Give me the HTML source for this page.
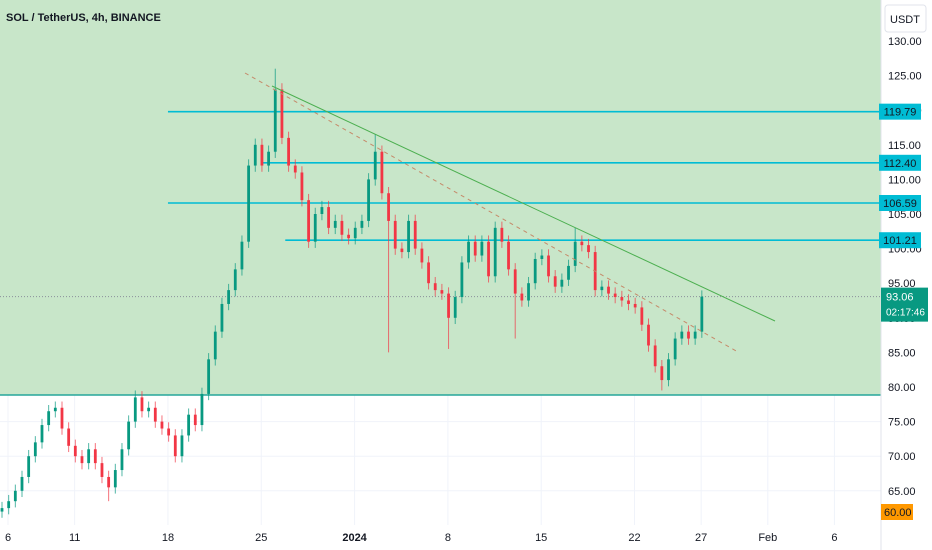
<!DOCTYPE html>
<html><head><meta charset="utf-8"><style>
body{margin:0;width:932px;height:550px;overflow:hidden;background:#fff;font-family:"Liberation Sans",sans-serif}
svg{display:block}
</style></head><body>
<svg id="chart" width="932" height="550">
<g id="grid"></g>
<rect x="0" y="0" width="881" height="395" fill="#c8e6c9"/>
<g id="grid2"></g>
<line x1="0" y1="395" x2="881" y2="395" stroke="#26a69a" stroke-width="1.5"/>
<g id="levels"></g>
<g id="candles"></g>
<g id="trend"></g>
<line x1="881" y1="0" x2="881" y2="550" stroke="#e0e3eb"/>
<g id="yaxis"></g>
<g id="xaxis"></g>
<text x="6" y="21" font-size="11" font-weight="bold" fill="#131722">SOL / TetherUS, 4h, BINANCE</text>
<rect x="885" y="5" width="41" height="27" rx="3" fill="#fff" stroke="#e0e3eb"/>
<text x="905" y="23" font-size="11" fill="#131722" text-anchor="middle">USDT</text>
</svg>
<script>
const closes=[62.5,63.5,65,67,70,72,74.5,76.5,77,74,71.5,70,69,71,69,67,65.5,68,71,75,78.5,76.5,77,75,74,73,70,73,76,74.5,79,84,88,92,94,97,101,112,115,112,114,123,116,112,111,107,101,105,106,103,104,102,101.5,103,104,110,114,108,104,100,99.5,104,100,98,95,94,93.5,90,93,98,101,99,101,96,103,101,97,93.5,92.5,95,98.5,99,96,94.5,95.5,97.5,101,100.5,99.5,94,94.5,93.5,93,92.5,92,91.5,89,86,83,81,84,87,88,87,88,93.06];
const openFirst=62;
const spikeIdx=[16,20,41,56,58,67,77,86,99];
const spikeHigh=[null,79.5,126,116.5,null,null,null,103,null];
const spikeLow=[63.5,null,null,null,85,85.5,87,null,79.5];
const yTicks=[130,125,120,115,110,105,100,95,90,85,80,75,70,65];
const xLabels=["6","11","18","25","2024","8","15","22","27","Feb","6"];
const xLabelDays=[0,5,12,19,26,33,40,47,52,57,62];
const levels=[119.79,112.40,106.59,101.21];
const levelStartDay=[12,19,12,20.8];
const lastPrice=93.06;

const NS="http://www.w3.org/2000/svg";
const y=v=>41+(130-v)*6.92;
const xDay=d=>8+d*13.33;
const xIdx=i=>xDay(i/2-0.45);
function mk(tag,attrs,parent){const e=document.createElementNS(NS,tag);for(const k in attrs)e.setAttribute(k,attrs[k]);parent.appendChild(e);return e;}
const grid=document.getElementById('grid');
yTicks.forEach(v=>{const l=mk('line',{x1:0,x2:881,y1:y(v),y2:y(v),stroke:'#f0f3fa'},grid);

});
xLabelDays.forEach(d=>{const l=mk('line',{x1:xDay(d),x2:xDay(d),y1:0,y2:525,stroke:'#f0f3fa'},grid);

});
const grid2=document.getElementById('grid2');
const pl=mk('line',{x1:0,x2:881,y1:y(lastPrice),y2:y(lastPrice),stroke:'#8a8f9a','stroke-dasharray':'1 2','stroke-width':1},grid2);


const lv=document.getElementById('levels');
levels.forEach((v,k)=>{const l=mk('line',{x1:xDay(levelStartDay[k]),x2:881,y1:y(v),y2:y(v),stroke:'#00bcd4','stroke-width':1.6},lv);

});
const cg=document.getElementById('candles');
closes.forEach((c,i)=>{const o=i?closes[i-1]:openFirst;const up=c>=o;const col=up?'#089981':'#f23645';
let hi=Math.max(o,c)+0.9,lo=Math.min(o,c)-0.9;const s=spikeIdx.indexOf(i);
if(s>=0){if(spikeHigh[s]!==null)hi=spikeHigh[s];if(spikeLow[s]!==null)lo=spikeLow[s];}
const x=xIdx(i);
const w=mk('line',{x1:x,x2:x,y1:y(hi),y2:y(lo),stroke:col,'stroke-width':1,opacity:0.7},cg);


const top=y(Math.max(o,c)),h=Math.max(1,Math.abs(y(o)-y(c)));
const b=mk('rect',{x:x-1.4,y:top,width:2.8,height:h,fill:col},cg);

});
const tg=document.getElementById('trend');
const t1=mk('line',{x1:272,y1:86,x2:775,y2:321,stroke:'#4caf50','stroke-width':1},tg);


const t2=mk('line',{x1:245,y1:73,x2:738,y2:352,stroke:'#c58a6a','stroke-width':1,'stroke-dasharray':'4 4'},tg);


const ya=document.getElementById('yaxis');
yTicks.forEach(v=>{const t=mk('text',{x:888,y:y(v)+4,'font-size':11,fill:'#131722'},ya);t.textContent=v.toFixed(2);

});
levels.forEach(v=>{const r=mk('rect',{x:879,y:y(v)-8,width:42,height:16,fill:'#00bcd4'},ya);


const t=mk('text',{x:900,y:y(v)+4,'font-size':11,fill:'#131722','text-anchor':'middle'},ya);t.textContent=v.toFixed(2);

});
const pr=mk('rect',{x:881,y:y(lastPrice)-9,width:47,height:34,fill:'#089981'},ya);


const pt=mk('text',{x:886,y:y(lastPrice)+4,'font-size':11,fill:'#fff'},ya);pt.textContent=lastPrice.toFixed(2);


const ct=mk('text',{x:886,y:y(lastPrice)+19,'font-size':10,fill:'#fff'},ya);ct.textContent='02:17:46';


const orr=mk('rect',{x:881,y:504,width:32,height:16,fill:'#ff9800'},ya);


const ot=mk('text',{x:884,y:516,'font-size':11,fill:'#131722'},ya);ot.textContent='60.00';


const xa=document.getElementById('xaxis');
xLabels.forEach((s,k)=>{const t=mk('text',{x:xDay(xLabelDays[k]),y:541,'font-size':11,fill:'#131722','text-anchor':'middle','font-weight':s==='2024'?'bold':'normal'},xa);t.textContent=s;

});
</script>
</body></html>
